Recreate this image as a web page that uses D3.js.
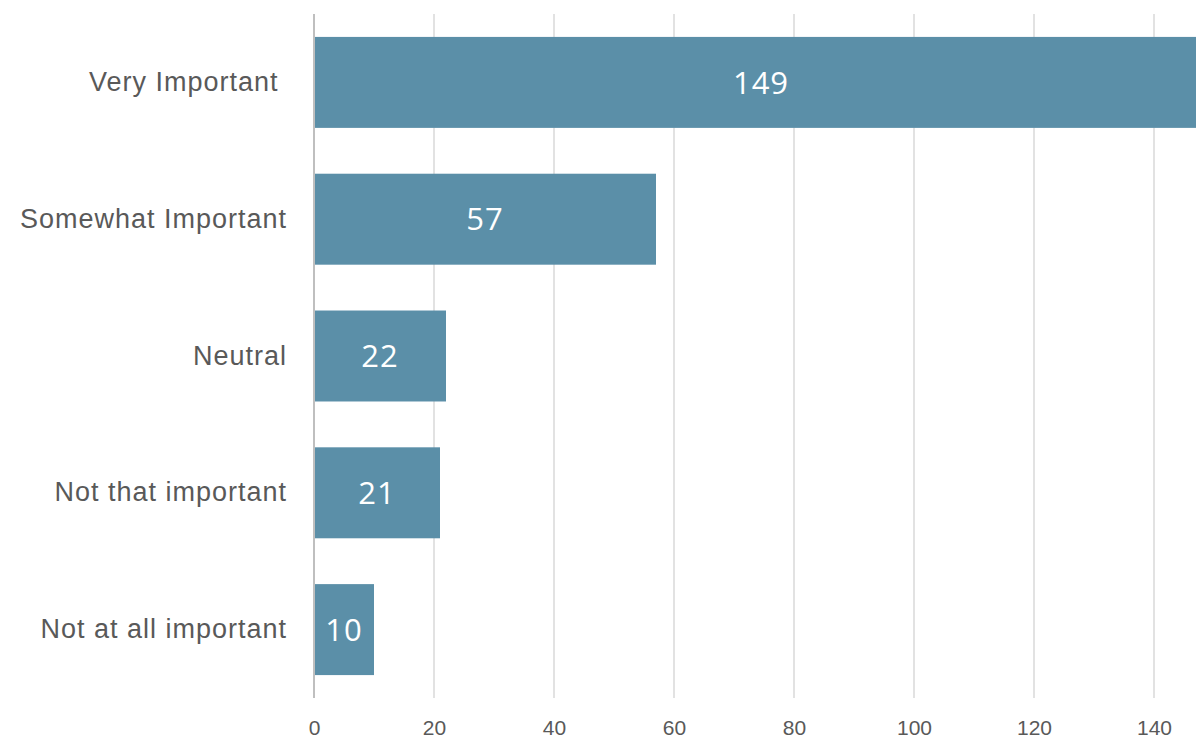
<!DOCTYPE html>
<html>
<head>
<meta charset="utf-8">
<script src="https://cdn.jsdelivr.net/npm/d3@7"></script>
<style>
  html, body { margin: 0; padding: 0; background: #fff; overflow: hidden; }
  svg { display: block; font-family: "Open Sans", "Liberation Sans", sans-serif; }
  .cat text { white-space: pre; }
</style>
</head>
<body>
<svg id="chart" width="1196" height="738"></svg>
<script>
// Survey responses: importance rating counts
const categories = ["Very Important ", "Somewhat Important", "Neutral", "Not that important", "Not at all important"];
const counts = [149, 57, 22, 21, 10];
const tickValues = [0, 20, 40, 60, 80, 100, 120, 140];

const margin = { top: 14, left: 314 };
const plotBottom = 698;

const svg = d3.select("#chart");

const x = d3.scaleLinear().domain([0, 160]).range([margin.left, margin.left + 960]);
const y = d3.scaleBand().domain(categories).range([margin.top, plotBottom])
  .paddingInner(0.335).paddingOuter(0.1675);

// vertical gridlines
svg.append("g").selectAll("line").data(tickValues.filter(d => d > 0)).join("line")
  .attr("x1", d => x(d)).attr("x2", d => x(d))
  .attr("y1", margin.top).attr("y2", plotBottom)
  .attr("stroke", "#d9d9d9").attr("stroke-width", 1.5);

// bars
svg.append("g").selectAll("rect").data(categories).join("rect")
  .attr("x", x(0))
  .attr("y", d => y(d))
  .attr("width", (d, i) => x(counts[i]) - x(0))
  .attr("height", y.bandwidth())
  .attr("fill", "#5b8fa8");

// category axis line
svg.append("line")
  .attr("x1", x(0)).attr("x2", x(0))
  .attr("y1", margin.top).attr("y2", plotBottom)
  .attr("stroke", "#bfbfbf").attr("stroke-width", 2);

// bottom axis tick labels
const xAxis = d3.axisBottom(x).tickValues(tickValues).tickSize(0).tickPadding(0);
const gx = svg.append("g").attr("transform", "translate(0, 735)").call(xAxis);
gx.select(".domain").remove();
gx.selectAll("text")
  .attr("y", 0)
  .attr("dy", 0)
  .attr("font-size", 21)
  .attr("font-family", null)
  .attr("fill", "#595959");

// category labels
const yAxis = d3.axisLeft(y).tickSize(0).tickPadding(0);
const gy = svg.append("g").attr("class", "cat")
  .attr("transform", `translate(${x(0) - 27}, 0)`).call(yAxis);
gy.select(".domain").remove();
gy.selectAll("text")
  .attr("font-size", 27)
  .attr("letter-spacing", 1)
  .attr("font-family", null)
  .attr("fill", "#595959");

// value labels centered in each bar
svg.append("g").selectAll("text").data(categories).join("text")
  .attr("x", (d, i) => (x(0) + x(counts[i])) / 2)
  .attr("y", d => y(d) + y.bandwidth() / 2)
  .attr("dy", "0.36em")
  .attr("text-anchor", "middle")
  .attr("font-size", 31)
  .attr("letter-spacing", 1)
  .attr("fill", "#ffffff")
  .text((d, i) => counts[i]);
</script>
</body>
</html>
